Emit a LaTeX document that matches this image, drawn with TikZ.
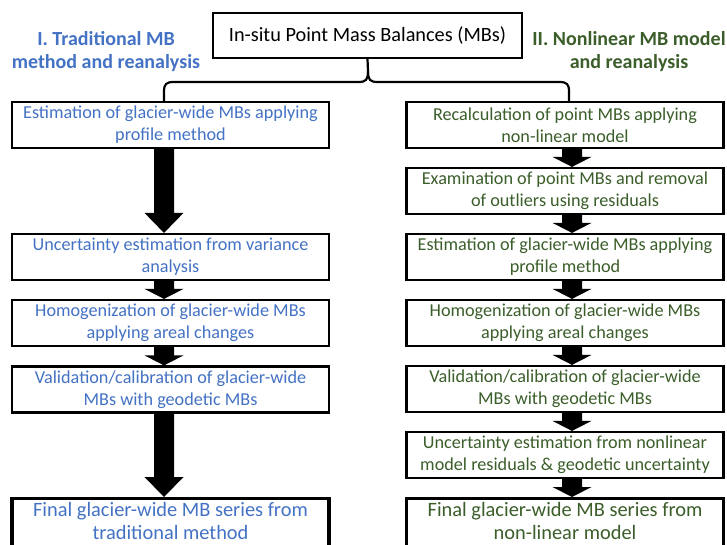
\documentclass[tikz,border=0pt]{standalone}
\usepackage{fontspec}
\setmainfont{Carlito}
\usetikzlibrary{calc}
\definecolor{tblue}{HTML}{4472C4}
\definecolor{tgreen}{HTML}{3B5E2A}
\newcommand{\blockarrow}[4]{%
  \fill let \p1=(#1 |- #2.south), \p2=(#1 |- #3.north) in
    (\x1-10pt,\y1) -- (\x1+10pt,\y1) -- (\x1+10pt,\y2+#4) -- (\x1+19.5pt,\y2+#4)
    -- (\x1,\y2) -- (\x1-19.5pt,\y2+#4) -- (\x1-10pt,\y2+#4) -- cycle;}
\begin{document}
\begin{tikzpicture}[x=1pt,y=-1pt,
  box/.style={draw=black, line width=2.2pt, minimum width=317pt, minimum height=46pt,
    inner sep=0pt, align=center, font=\fontsize{18.2}{22}\selectfont},
  lbox/.style={box, text=tblue},
  rbox/.style={box, text=tgreen},
  finalbox/.style={line width=3.2pt, anchor=north, minimum height=0pt, inner ysep=4pt,
    text height=37pt, text depth=16pt, font=\fontsize{20.4}{23}\selectfont},
  topbox/.style={draw=black, line width=2.2pt, minimum width=309pt, minimum height=45pt,
    inner sep=0pt, font=\fontsize{20.3}{22}\selectfont},
  title/.style={align=center, font=\fontsize{20}{23}\selectfont\bfseries},
  brace/.style={draw=black, line width=2.2pt}]
\useasboundingbox (0,0) rectangle (727,544);
\fill[white] (0,0) rectangle (727,544);

\node[topbox] (top) at (367.5,35.5) {In-situ Point Mass Balances (MBs)};
\node[title, text=tblue] (ltitle) at (106,52) {I. Traditional MB\\method and reanalysis};
\node[title, text=tgreen] (rtitle) at (629,52) {II. Nonlinear MB model\\and reanalysis};

% left column
\node[lbox] (L1) at (170.5,125) {Estimation of glacier-wide MBs applying\\profile method};
\node[lbox] (L2) at (170.5,257) {Uncertainty estimation from variance\\analysis};
\node[lbox] (L3) at (170.5,323) {Homogenization of glacier-wide MBs\\applying areal changes};
\node[lbox] (L4) at (170.5,389.5) {Validation/calibration of glacier-wide\\MBs with geodetic MBs};
\node[lbox, finalbox] (L5) at (170.5,497) {Final glacier-wide MB series from\\traditional method};

% right column
\node[rbox] (R1) at (565,125) {Recalculation of point MBs applying\\non-linear model};
\node[rbox] (R2) at (565,191) {Examination of point MBs and removal\\of outliers using residuals};
\node[rbox] (R3) at (565,257) {Estimation of glacier-wide MBs applying\\profile method};
\node[rbox] (R4) at (565,323) {Homogenization of glacier-wide MBs\\applying areal changes};
\node[rbox] (R5) at (565,389) {Validation/calibration of glacier-wide\\MBs with geodetic MBs};
\node[rbox] (R6) at (565,455) {Uncertainty estimation from nonlinear\\model residuals \& geodetic uncertainty};
\node[rbox, finalbox] (R7) at (565,497) {Final glacier-wide MB series from\\non-linear model};

\coordinate (lx) at (164,0);
\coordinate (rx) at (572,0);

% brace
\draw[brace] (top.south) -- (368,71)
  .. controls (368,80) and (366,82) .. (358,82) -- (174,82)
  .. controls (166,82) and (164,84) .. (164,92) -- (lx |- L1.north);
\draw[brace] (368,71)
  .. controls (368,80) and (370,82) .. (378,82) -- (559,82)
  .. controls (567,82) and (569,84) .. (569,92) -- (569,0 |- R1.north);

% arrows
\blockarrow{lx}{L1}{L2}{20pt}
\blockarrow{lx}{L2}{L3}{10pt}
\blockarrow{lx}{L3}{L4}{10pt}
\blockarrow{lx}{L4}{L5}{20pt}
\blockarrow{rx}{R1}{R2}{10pt}
\blockarrow{rx}{R2}{R3}{10pt}
\blockarrow{rx}{R3}{R4}{10pt}
\blockarrow{rx}{R4}{R5}{10pt}
\blockarrow{rx}{R5}{R6}{10pt}
\blockarrow{rx}{R6}{R7}{10pt}
\end{tikzpicture}
\end{document}
